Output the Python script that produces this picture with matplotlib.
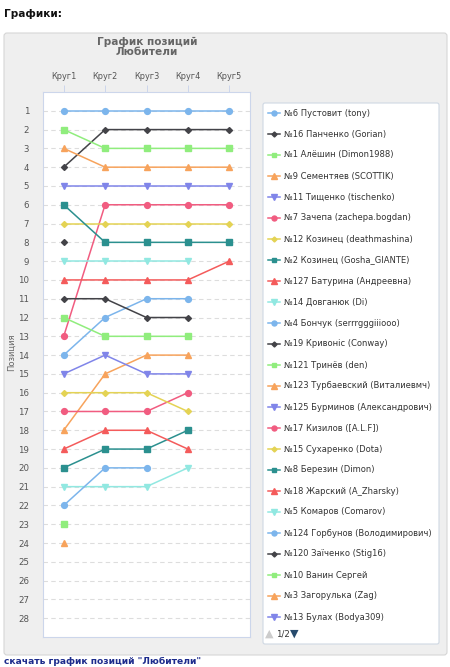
import matplotlib
matplotlib.use("Agg")
import matplotlib.pyplot as plt
from matplotlib.patches import FancyBboxPatch
import numpy as np

plt.rcParams['font.family'] = ['DejaVu Sans']

rounds = ["Круг1", "Круг2", "Круг3", "Круг4", "Круг5"]
names = [
    "№6 Пустовит (tony)", "№16 Панченко (Gorian)", "№1 Алёшин (Dimon1988)",
    "№9 Сементяев (SCOTTIK)", "№11 Тищенко (tischenko)", "№7 Зачепа (zachepa.bogdan)",
    "№12 Козинец (deathmashina)", "№2 Козинец (Gosha_GIANTE)", "№127 Батурина (Андреевна)",
    "№14 Довганюк (Di)", "№4 Бончук (serrrgggiiiooo)", "№19 Кривоніс (Conway)",
    "№121 Тринёв (den)", "№123 Турбаевский (Виталиевмч)", "№125 Бурминов (Александрович)",
    "№17 Кизилов ([A.L.F])", "№15 Сухаренко (Dota)", "№8 Березин (Dimon)",
    "№18 Жарский (A_Zharsky)", "№5 Комаров (Comarov)", "№124 Горбунов (Володимирович)",
    "№120 Заїченко (Stig16)", "№10 Ванин Сергей", "№3 Загорулька (Zag)",
    "№13 Булах (Bodya309)",
]
N = None
positions = [
    [1, 1, 1, 1, 1],
    [4, 2, 2, 2, 2],
    [2, 3, 3, 3, 3],
    [3, 4, 4, 4, 4],
    [5, 5, 5, 5, 5],
    [13, 6, 6, 6, 6],
    [7, 7, 7, 7, 7],
    [6, 8, 8, 8, 8],
    [10, 10, 10, 10, 9],
    [9, 9, 9, 9, N],
    [14, 12, 11, 11, N],
    [11, 11, 12, 12, N],
    [12, 13, 13, 13, N],
    [18, 15, 14, 14, N],
    [15, 14, 15, 15, N],
    [17, 17, 17, 16, N],
    [16, 16, 16, 17, N],
    [20, 19, 19, 18, N],
    [19, 18, 18, 19, N],
    [21, 21, 21, 20, N],
    [22, 20, 20, N, N],
    [8, N, N, N, N],
    [23, N, N, N, N],
    [24, N, N, N, N],
    [N, N, N, N, N],
]
y_ticks = list(range(1, 29))

palette = ["#7cb5ec", "#434348", "#90ed7d", "#f7a35c", "#8085e9",
           "#f15c80", "#e4d354", "#2b908f", "#f45b5b", "#91e8e1"]
marker_cycle = ["o", "D", "s", "^", "v"]
msize = {"o": 4.2, "D": 3.0, "s": 4.2, "^": 4.4, "v": 4.4}

W, H = 450, 667
fig = plt.figure(figsize=(W / 100, H / 100), dpi=100)

# background layer in pixel coords
bg = fig.add_axes([0, 0, 1, 1])
bg.set_xlim(0, W)
bg.set_ylim(H, 0)
bg.axis("off")

bg.text(4, 14, "Графики:", fontsize=7.6, fontweight="bold", color="#111", va="center")
bg.add_patch(FancyBboxPatch((4, 33), 443, 622, boxstyle="round,pad=0,rounding_size=3",
                            fc="#efefef", ec="#d6d6d6", lw=0.8))
bg.text(147, 47, "График позиций\nЛюбители", fontsize=7.6, fontweight="bold",
        color="#666666", ha="center", va="center", linespacing=0.95)
bg.text(4, 661, 'скачать график позиций "Любители"', fontsize=6.6, fontweight="bold",
        color="#1c2b8c", va="center")
bg.text(11, 352, "Позиция", fontsize=6.0, color="#666666", rotation=90,
        ha="center", va="center")

# legend box
bg.add_patch(FancyBboxPatch((263, 103), 176, 541, boxstyle="round,pad=0,rounding_size=2",
                            fc="white", ec="#cfd8e3", lw=0.8))
for i, name in enumerate(names):
    yy = 113 + i * 21.0
    c = palette[i % len(palette)]
    m = marker_cycle[i % len(marker_cycle)]
    bg.plot([268, 280], [yy, yy], color=c, lw=1.1)
    bg.plot([274], [yy], marker=m, color=c, ms=msize[m] * 0.85, mec=c)
    bg.text(284, yy, name, fontsize=6.05, color="#333333", va="center")
bg.text(265, 634, "▲", fontsize=8, color="#cccccc", va="center")
bg.text(276, 634, "1/2", fontsize=6.2, color="#333333", va="center")
bg.text(290, 634, "▼", fontsize=8, color="#274b6d", va="center")

# plot area
ax = fig.add_axes([43 / W, 1 - 637 / H, 207 / W, 545 / H])
ax.set_facecolor("white")
x = np.arange(len(rounds))
for i, pos in enumerate(positions):
    c = palette[i % len(palette)]
    m = marker_cycle[i % len(marker_cycle)]
    yv = np.array([np.nan if p is None else p for p in pos], dtype=float)
    ax.plot(x, yv, color=c, lw=1.1, marker=m, ms=msize[m], mec=c, zorder=3)

ax.set_xlim(-0.5, 4.5)
ax.set_ylim(29, 0)
ax.set_yticks(y_ticks)
ax.set_yticklabels([str(t) for t in y_ticks])
ax.set_xticks(x)
ax.set_xticklabels(rounds)
ax.xaxis.tick_top()
ax.tick_params(axis="x", direction="out", length=5, width=0.7, color="#ccd6eb",
               labelsize=5.9, labelcolor="#555555", pad=3)
ax.tick_params(axis="y", length=0, labelsize=6.2, labelcolor="#555555", pad=10)
ax.grid(axis="y", color="#dddddd", linestyle=(0, (4, 3)), lw=0.8)
ax.set_axisbelow(True)
for s in ax.spines.values():
    s.set_color("#ccd6eb")
    s.set_linewidth(0.8)

fig.savefig("out.png", dpi=100)
